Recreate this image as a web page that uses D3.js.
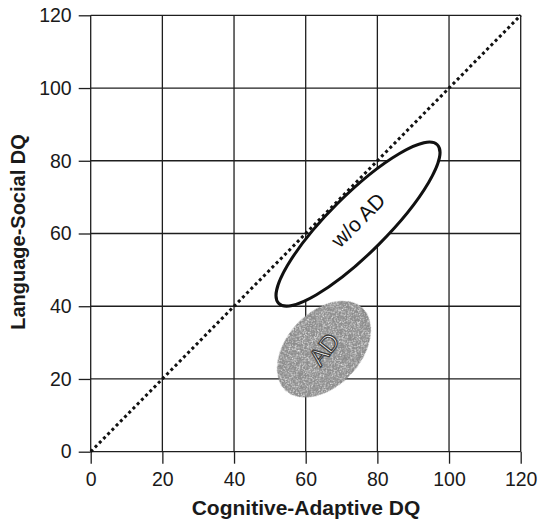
<!DOCTYPE html>
<html><head><meta charset="utf-8">
<script src="https://cdn.jsdelivr.net/npm/d3@7/dist/d3.min.js"></script>
<style>body{margin:0;background:#fff}svg{display:block}</style>
</head><body>
<svg id="c" width="539" height="522"></svg>
<script>
// ---- data ----
const xTicks = [0, 20, 40, 60, 80, 100, 120];
const yTicks = [0, 20, 40, 60, 80, 100, 120];
const xTitle = "Cognitive-Adaptive DQ";
const yTitle = "Language-Social DQ";
const identityLine = [[0, 0], [120, 120]];
// ellipses (data units): center, semi-major, semi-minor, angle (deg)
const ellipseLabels = ["w/o AD", "AD"];
const ellipseCx = [74.6, 65.1];
const ellipseCy = [62.6, 28.2];
const ellipseA = [31.3, 15.6];
const ellipseB = [8.0, 10.0];
const ellipseAngle = [45, 47];

// ---- layout ----
const svg = d3.select("#c");
const x = d3.scaleLinear().domain([0, 120]).range([90.7, 520.7]);
const y = d3.scaleLinear().domain([0, 120]).range([451.7, 15.3]);
const font = "Liberation Sans, Arial, Helvetica, sans-serif";

const defs = svg.append("defs");
const f = defs.append("filter").attr("id", "stip").attr("x", "-10%").attr("y", "-10%").attr("width", "120%").attr("height", "120%");
f.append("feTurbulence").attr("type", "fractalNoise").attr("baseFrequency", 1.1).attr("numOctaves", 2).attr("seed", 5).attr("result", "n");
f.append("feColorMatrix").attr("in", "n").attr("type", "matrix")
  .attr("values", "0 0 0 0 0.92  0 0 0 0 0.92  0 0 0 0 0.92  2.6 0 0 0 -1.25").attr("result", "dots");
f.append("feComposite").attr("in", "dots").attr("in2", "SourceGraphic").attr("operator", "in").attr("result", "d2");
f.append("feMerge").call(m => { m.append("feMergeNode").attr("in", "SourceGraphic"); m.append("feMergeNode").attr("in", "d2"); });

// grid
const g = svg.append("g");
g.selectAll("line.v").data(xTicks).join("line")
  .attr("x1", d => x(d)).attr("x2", d => x(d)).attr("y1", y(120)).attr("y2", y(0))
  .attr("stroke", "#1e1e1e").attr("stroke-width", 1.3);
g.selectAll("line.h").data(yTicks).join("line")
  .attr("y1", d => y(d)).attr("y2", d => y(d)).attr("x1", x(0)).attr("x2", x(120))
  .attr("stroke", "#1e1e1e").attr("stroke-width", 1.3);

// axes
const xAxis = d3.axisBottom(x).tickValues(xTicks).tickSizeInner(12).tickSizeOuter(0).tickPadding(8);
const yAxis = d3.axisLeft(y).tickValues(yTicks).tickSizeInner(12).tickSizeOuter(0).tickPadding(7);
const gx = svg.append("g").attr("transform", `translate(0,${y(0)})`).call(xAxis);
const gy = svg.append("g").attr("transform", `translate(${x(0)},0)`).call(yAxis);
[gx, gy].forEach(a => {
  a.select(".domain").remove();
  a.selectAll(".tick line").attr("stroke", "#1e1e1e").attr("stroke-width", 1.3);
  a.selectAll(".tick text").attr("fill", "#1a1a1a").style("font-family", font).style("font-size", "19.5px");
});

// identity line
svg.append("path")
  .attr("d", d3.line().x(d => x(d[0])).y(d => y(d[1]))(identityLine))
  .attr("fill", "none").attr("stroke", "#111").attr("stroke-width", 3).attr("stroke-dasharray", "3,3");

// ellipses
ellipseLabels.forEach((lab, i) => {
  const cx = x(ellipseCx[i]), cy = y(ellipseCy[i]);
  const rx = x(ellipseA[i]) - x(0), ry = y(0) - y(ellipseB[i]);
  const isAD = lab === "AD";
  const e = svg.append("ellipse")
    .attr("cx", cx).attr("cy", cy).attr("rx", rx).attr("ry", ry)
    .attr("transform", `rotate(${-ellipseAngle[i]},${cx},${cy})`);
  if (isAD) {
    e.attr("fill", "#8c8c8c").attr("stroke", "#7a7a7a").attr("stroke-width", 1).attr("filter", "url(#stip)");
  } else {
    e.attr("fill", "#fff").attr("stroke", "#111").attr("stroke-width", 3);
  }
  const ty = cy + (isAD ? 0 : -4);
  const t = svg.append("text")
    .attr("x", cx).attr("y", ty)
    .attr("text-anchor", "middle").attr("dominant-baseline", "central")
    .attr("transform", `rotate(${isAD ? -52 : -45},${cx},${ty})`)
    .style("font-family", font).style("font-size", isAD ? "24px" : "21px")
    .text(lab);
  if (isAD) t.attr("fill", "#fff").attr("stroke", "#3a3a3a").attr("stroke-width", 1.2);
  else t.attr("fill", "#111");
});

// titles
svg.append("text").attr("x", 306).attr("y", 515).attr("text-anchor", "middle")
  .style("font-family", font).style("font-size", "21px").style("font-weight", "bold").attr("fill", "#1a1a1a")
  .text(xTitle);
svg.append("text").attr("transform", "translate(25,232) rotate(-90)").attr("text-anchor", "middle")
  .style("font-family", font).style("font-size", "20px").style("font-weight", "bold").attr("fill", "#1a1a1a")
  .text(yTitle);
</script>
</body></html>
